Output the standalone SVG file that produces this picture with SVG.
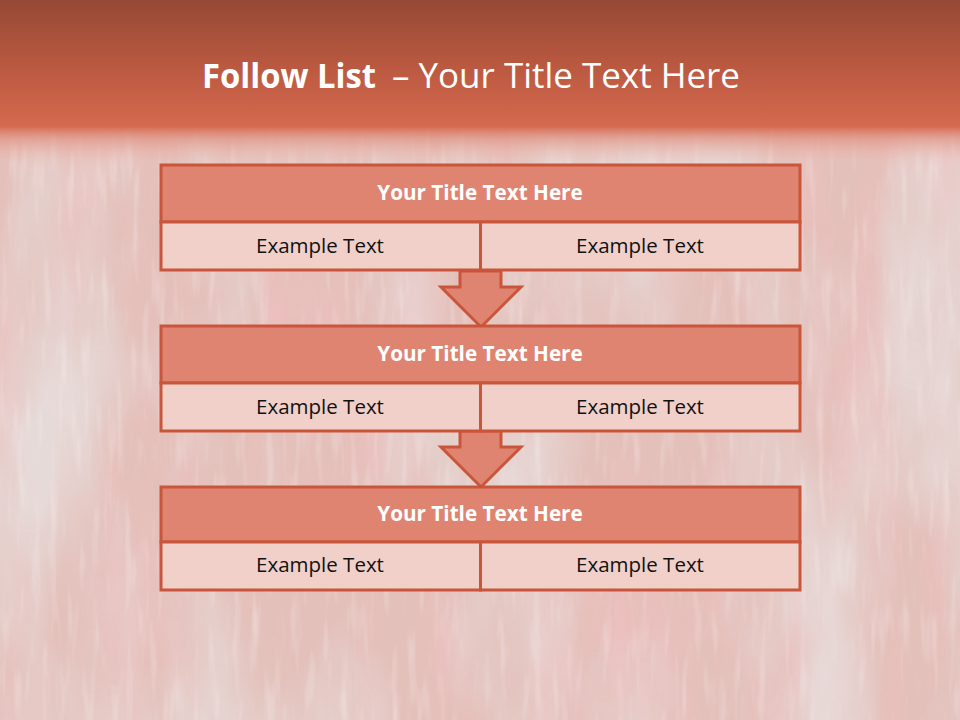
<svg xmlns="http://www.w3.org/2000/svg" width="960" height="720" viewBox="0 0 960 720">
  <defs>
    <linearGradient id="hdr" x1="0" y1="0" x2="0" y2="1">
      <stop offset="0" stop-color="#954935"/>
      <stop offset="0.5" stop-color="#B95840"/>
      <stop offset="1" stop-color="#D56A4E"/>
    </linearGradient>
    <linearGradient id="fade" x1="0" y1="0" x2="0" y2="1">
      <stop offset="0" stop-color="#D56A4E" stop-opacity="1"/>
      <stop offset="0.3" stop-color="#E09080" stop-opacity="0.7"/>
      <stop offset="1" stop-color="#EBC9C2" stop-opacity="0"/>
    </linearGradient>
    <filter id="tex" x="0" y="0" width="100%" height="100%">
      <feTurbulence type="fractalNoise" baseFrequency="0.02 0.004" numOctaves="4" seed="7" result="n"/>
      <feColorMatrix in="n" type="matrix" values="0 0 0 0 0.86  0 0 0 0 0.52  0 0 0 0 0.52  0 0 0 2.2 -1.0"/>
    </filter>
    <filter id="tex2" x="0" y="0" width="100%" height="100%">
      <feTurbulence type="fractalNoise" baseFrequency="0.008 0.003" numOctaves="4" seed="3" result="n"/>
      <feColorMatrix in="n" type="matrix" values="0 0 0 0 0.80  0 0 0 0 0.79  0 0 0 0 0.79  0 0 0 2.4 -1.0"/>
    </filter>
    <filter id="tex3" x="0" y="0" width="100%" height="100%">
      <feTurbulence type="fractalNoise" baseFrequency="0.12 0.015" numOctaves="2" seed="11" result="n"/>
      <feColorMatrix in="n" type="matrix" values="0 0 0 0 0.95  0 0 0 0 0.90  0 0 0 0 0.89  0 0 0 2.5 -1.3"/>
    </filter>
  </defs>
  <style>
    .ttl{fill:#DE8470;stroke:#C9553B;stroke-width:3}
    .body{fill:#F1D0CA;stroke:#C9553B;stroke-width:3}
    .arrow{fill:#DE8470;stroke:#C9553B;stroke-width:3;stroke-linejoin:miter}
    .ht{font-family:"Open Sans","Liberation Sans",sans-serif;font-size:20.7px;font-weight:bold;fill:#FFFFFF;text-anchor:middle}
    .bt{font-family:"Open Sans","Liberation Sans",sans-serif;font-size:20.5px;fill:#111111;text-anchor:middle}
  </style>
  <rect width="960" height="720" fill="#E4C0BA"/>
  <rect width="960" height="720" filter="url(#tex)" opacity="0.7"/>
  <rect width="960" height="720" filter="url(#tex2)" opacity="0.7"/>
  <rect width="960" height="720" filter="url(#tex3)" opacity="0.35"/>
  <rect x="0" y="0" width="960" height="128" fill="url(#hdr)"/>
  <rect x="0" y="126" width="960" height="42" fill="url(#fade)"/>
  <text y="88" font-family="'Open Sans','Liberation Sans',sans-serif" font-size="34" fill="#FFFFFF"><tspan x="202" font-weight="bold" textLength="174" lengthAdjust="spacingAndGlyphs">Follow List</tspan><tspan x="392" textLength="348" lengthAdjust="spacingAndGlyphs">– Your Title Text Here</tspan></text>

  <g id="connectors">
    <polygon class="arrow" points="460,271 501,271 501,287 521,287 481,327 441,287 460,287"/>
    <polygon class="arrow" points="460,431 501,431 501,447 521,447 481,487 441,447 460,447"/>
  </g>

  <g id="node1">
    <rect class="ttl" x="161" y="165" width="639" height="57"/>
    <rect class="body" x="161" y="222" width="319.5" height="48"/>
    <rect class="body" x="480.5" y="222" width="319.5" height="48"/>
    <text class="ht" x="480" y="200">Your Title Text Here</text>
    <text class="bt" x="320" y="253">Example Text</text>
    <text class="bt" x="640" y="253">Example Text</text>
  </g>
  <g id="node2">
    <rect class="ttl" x="161" y="326" width="639" height="57"/>
    <rect class="body" x="161" y="383" width="319.5" height="48"/>
    <rect class="body" x="480.5" y="383" width="319.5" height="48"/>
    <text class="ht" x="480" y="361">Your Title Text Here</text>
    <text class="bt" x="320" y="414">Example Text</text>
    <text class="bt" x="640" y="414">Example Text</text>
  </g>
  <g id="node3">
    <rect class="ttl" x="161" y="487" width="639" height="55"/>
    <rect class="body" x="161" y="542" width="319.5" height="48"/>
    <rect class="body" x="480.5" y="542" width="319.5" height="48"/>
    <text class="ht" x="480" y="521">Your Title Text Here</text>
    <text class="bt" x="320" y="572">Example Text</text>
    <text class="bt" x="640" y="572">Example Text</text>
  </g>
</svg>
